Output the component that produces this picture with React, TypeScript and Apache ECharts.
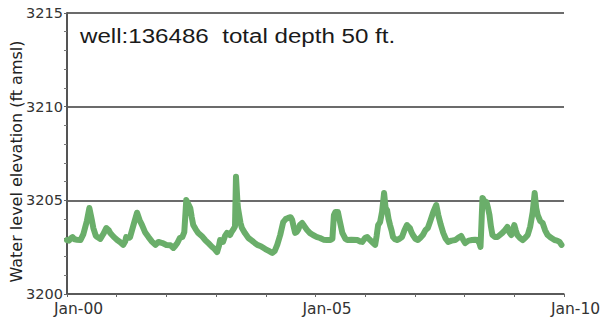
import React, { useEffect, useRef } from "react";
import * as echarts from "echarts";

const titleText = "well:136486  total depth 50 ft.";
const yAxisName = "Water level elevation (ft amsl)";
const yTicks = [3200, 3205, 3210, 3215];
const xMajorYears = [2000, 2005, 2010];

const years = [
  2000.00, 2000.04, 2000.08, 2000.11, 2000.15, 2000.20, 2000.27, 2000.33, 2000.40, 2000.45,
  2000.50, 2000.53, 2000.58, 2000.61, 2000.67, 2000.73, 2000.79, 2000.84, 2000.87, 2000.94,
  2001.01, 2001.08, 2001.13, 2001.17, 2001.19, 2001.25, 2001.27, 2001.34, 2001.41, 2001.46,
  2001.51, 2001.57, 2001.64, 2001.71, 2001.78, 2001.84, 2001.92, 2002.00, 2002.08, 2002.14,
  2002.18, 2002.22, 2002.27, 2002.32, 2002.36, 2002.40, 2002.44, 2002.48, 2002.51, 2002.54,
  2002.59, 2002.64, 2002.71, 2002.78, 2002.85, 2002.92, 2002.97, 2003.02, 2003.06, 2003.08,
  2003.12, 2003.14, 2003.18, 2003.22, 2003.26, 2003.28, 2003.31, 2003.34, 2003.38, 2003.40,
  2003.43, 2003.44, 2003.49, 2003.52, 2003.58, 2003.65, 2003.72, 2003.78, 2003.83, 2003.90,
  2003.99, 2004.06, 2004.13, 2004.18, 2004.23, 2004.29, 2004.35, 2004.40, 2004.45, 2004.50,
  2004.53, 2004.56, 2004.59, 2004.62, 2004.65, 2004.69, 2004.73, 2004.78, 2004.83, 2004.89,
  2004.95, 2005.02, 2005.09, 2005.16, 2005.23, 2005.30, 2005.34, 2005.37, 2005.40, 2005.45,
  2005.48, 2005.54, 2005.60, 2005.64, 2005.72, 2005.84, 2005.90, 2005.94, 2006.00, 2006.04,
  2006.07, 2006.10, 2006.15, 2006.20, 2006.23, 2006.26, 2006.30, 2006.34, 2006.38, 2006.41,
  2006.44, 2006.47, 2006.50, 2006.53, 2006.56, 2006.60, 2006.64, 2006.69, 2006.74, 2006.79,
  2006.84, 2006.87, 2006.90, 2006.93, 2006.96, 2007.01, 2007.06, 2007.11, 2007.16, 2007.21,
  2007.26, 2007.31, 2007.37, 2007.43, 2007.47, 2007.52, 2007.57, 2007.62, 2007.67, 2007.74,
  2007.81, 2007.87, 2007.93, 2007.97, 2008.01, 2008.08, 2008.15, 2008.21, 2008.26, 2008.30,
  2008.32, 2008.34, 2008.36, 2008.40, 2008.44, 2008.47, 2008.50, 2008.53, 2008.56, 2008.61,
  2008.66, 2008.71, 2008.76, 2008.81, 2008.86, 2008.90, 2008.94, 2008.98, 2009.00, 2009.03,
  2009.06, 2009.11, 2009.17, 2009.22, 2009.27, 2009.32, 2009.37, 2009.41, 2009.44, 2009.47,
  2009.52, 2009.57, 2009.62, 2009.67, 2009.74, 2009.81, 2009.86, 2009.91, 2009.95,
];

const levels = [
  3202.88, 3202.85, 3202.98, 3203.04, 3202.92, 3202.90, 3202.88, 3203.20, 3203.90, 3204.59,
  3203.95, 3203.52, 3203.10, 3203.04, 3202.94, 3203.20, 3203.52, 3203.40, 3203.26, 3203.05,
  3202.88, 3202.75, 3202.62, 3202.80, 3203.04, 3203.00, 3203.04, 3203.70, 3204.34, 3203.95,
  3203.68, 3203.30, 3203.04, 3202.80, 3202.62, 3202.78, 3202.72, 3202.62, 3202.60, 3202.46,
  3202.58, 3202.72, 3202.99, 3203.04, 3203.30, 3205.02, 3204.80, 3204.59, 3204.10, 3203.68,
  3203.45, 3203.26, 3203.10, 3202.88, 3202.70, 3202.51, 3202.40, 3202.24, 3202.60, 3202.88,
  3202.85, 3202.78, 3203.10, 3203.26, 3203.20, 3203.15, 3203.30, 3203.42, 3203.60, 3206.26,
  3204.90, 3204.59, 3203.80, 3203.52, 3203.25, 3202.99, 3202.85, 3202.72, 3202.62, 3202.55,
  3202.40, 3202.30, 3202.19, 3202.30, 3202.62, 3203.15, 3203.84, 3204.00, 3204.06, 3204.10,
  3203.95, 3203.60, 3203.26, 3203.30, 3203.42, 3203.70, 3203.79, 3203.60, 3203.42, 3203.25,
  3203.15, 3203.05, 3202.99, 3202.90, 3202.88, 3202.88, 3202.95, 3204.20, 3204.38, 3204.38,
  3204.00, 3203.26, 3202.95, 3202.88, 3202.90, 3202.88, 3202.80, 3202.78, 3203.00, 3203.04,
  3202.95, 3202.88, 3202.75, 3202.62, 3203.10, 3203.68, 3203.84, 3204.40, 3205.39, 3204.60,
  3204.48, 3204.00, 3203.68, 3203.40, 3203.04, 3202.92, 3202.88, 3202.95, 3203.04, 3203.40,
  3203.68, 3203.60, 3203.52, 3203.30, 3203.15, 3202.95, 3202.88, 3203.00, 3203.15, 3203.40,
  3203.52, 3203.90, 3204.38, 3204.75, 3204.22, 3203.70, 3203.26, 3202.95, 3202.78, 3202.85,
  3202.88, 3203.00, 3203.10, 3202.90, 3202.72, 3202.85, 3202.88, 3202.90, 3202.88, 3202.70,
  3202.51, 3203.80, 3205.13, 3204.95, 3204.91, 3204.60, 3204.22, 3203.60, 3203.15, 3203.04,
  3203.04, 3203.15, 3203.26, 3203.40, 3203.58, 3203.30, 3203.15, 3203.50, 3203.68, 3203.40,
  3203.15, 3203.00, 3202.88, 3203.00, 3203.15, 3203.60, 3204.38, 3205.39, 3204.60, 3204.22,
  3203.90, 3203.79, 3203.40, 3203.15, 3203.00, 3202.88, 3202.85, 3202.78, 3202.62,
];

export default function App() {
  const ref = useRef<HTMLDivElement>(null);

  useEffect(() => {
    document.body.style.margin = "0";
    if (!ref.current) return;
    const chart = echarts.init(ref.current, undefined, { renderer: "svg" });
    const data = years.map((y, i) => [y, levels[i]]);
    chart.setOption({
      animation: false,
      backgroundColor: "#ffffff",
      grid: {
        left: 67,
        right: 41,
        top: 13,
        bottom: 27,
        containLabel: false,
        outerBoundsMode: "none",
      },
      graphic: [
        {
          type: "text",
          x: 80,
          y: 36.5,
          scaleX: 1.15,
          style: {
            text: titleText,
            font: '21px "Liberation Sans", Arial, sans-serif',
            fill: "#1a1a1a",
            verticalAlign: "middle",
            align: "left",
          },
        },
      ],
      xAxis: {
        type: "value",
        min: xMajorYears[0],
        max: xMajorYears[xMajorYears.length - 1],
        interval: 1,
        axisLine: { show: true, lineStyle: { color: "#555", width: 1.5 } },
        axisTick: { show: true, length: 3, lineStyle: { color: "#666", width: 1 } },
        splitLine: { show: false },
        axisLabel: {
          showMinLabel: true,
          showMaxLabel: true,
          hideOverlap: false,
          margin: 7,
          fontFamily: '"DejaVu Sans", sans-serif',
          fontSize: 15.5,
          color: "#333",
          padding: [0, 0, 0, 23],
          formatter: (v: number) =>
            xMajorYears.includes(Math.round(v)) ? "Jan-" + String(Math.round(v)).slice(2) : "",
        },
      },
      yAxis: {
        type: "value",
        min: yTicks[0],
        max: yTicks[yTicks.length - 1],
        interval: 5,
        name: yAxisName,
        nameLocation: "middle",
        nameGap: 43,
        nameMoveOverlap: false,
        nameTextStyle: {
          fontFamily: '"DejaVu Sans", sans-serif',
          fontSize: 16,
          color: "#222",
          padding: [0, 0, 0, -16],
        },
        axisLine: { show: true, lineStyle: { color: "#555", width: 2 } },
        axisTick: { show: true, length: 3, lineStyle: { color: "#666", width: 1 } },
        minorTick: { show: true, splitNumber: 5, length: 3, lineStyle: { color: "#777", width: 1 } },
        splitLine: { show: true, lineStyle: { color: "#3a3a3a", width: 1.5 } },
        axisLabel: {
          margin: 4,
          fontFamily: '"DejaVu Sans", sans-serif',
          fontSize: 14.5,
          color: "#333",
          formatter: (v: number) => String(v),
        },
      },
      series: [
        {
          type: "line",
          data,
          showSymbol: false,
          symbol: "none",
          lineStyle: { color: "#6aae6a", width: 6, cap: "round", join: "round" },
          z: 3,
        },
      ],
    });
    return () => chart.dispose();
  }, []);

  return (
    <div
      ref={ref}
      style={{ position: "fixed", left: 0, top: 0, width: 605, height: 321 }}
    />
  );
}
